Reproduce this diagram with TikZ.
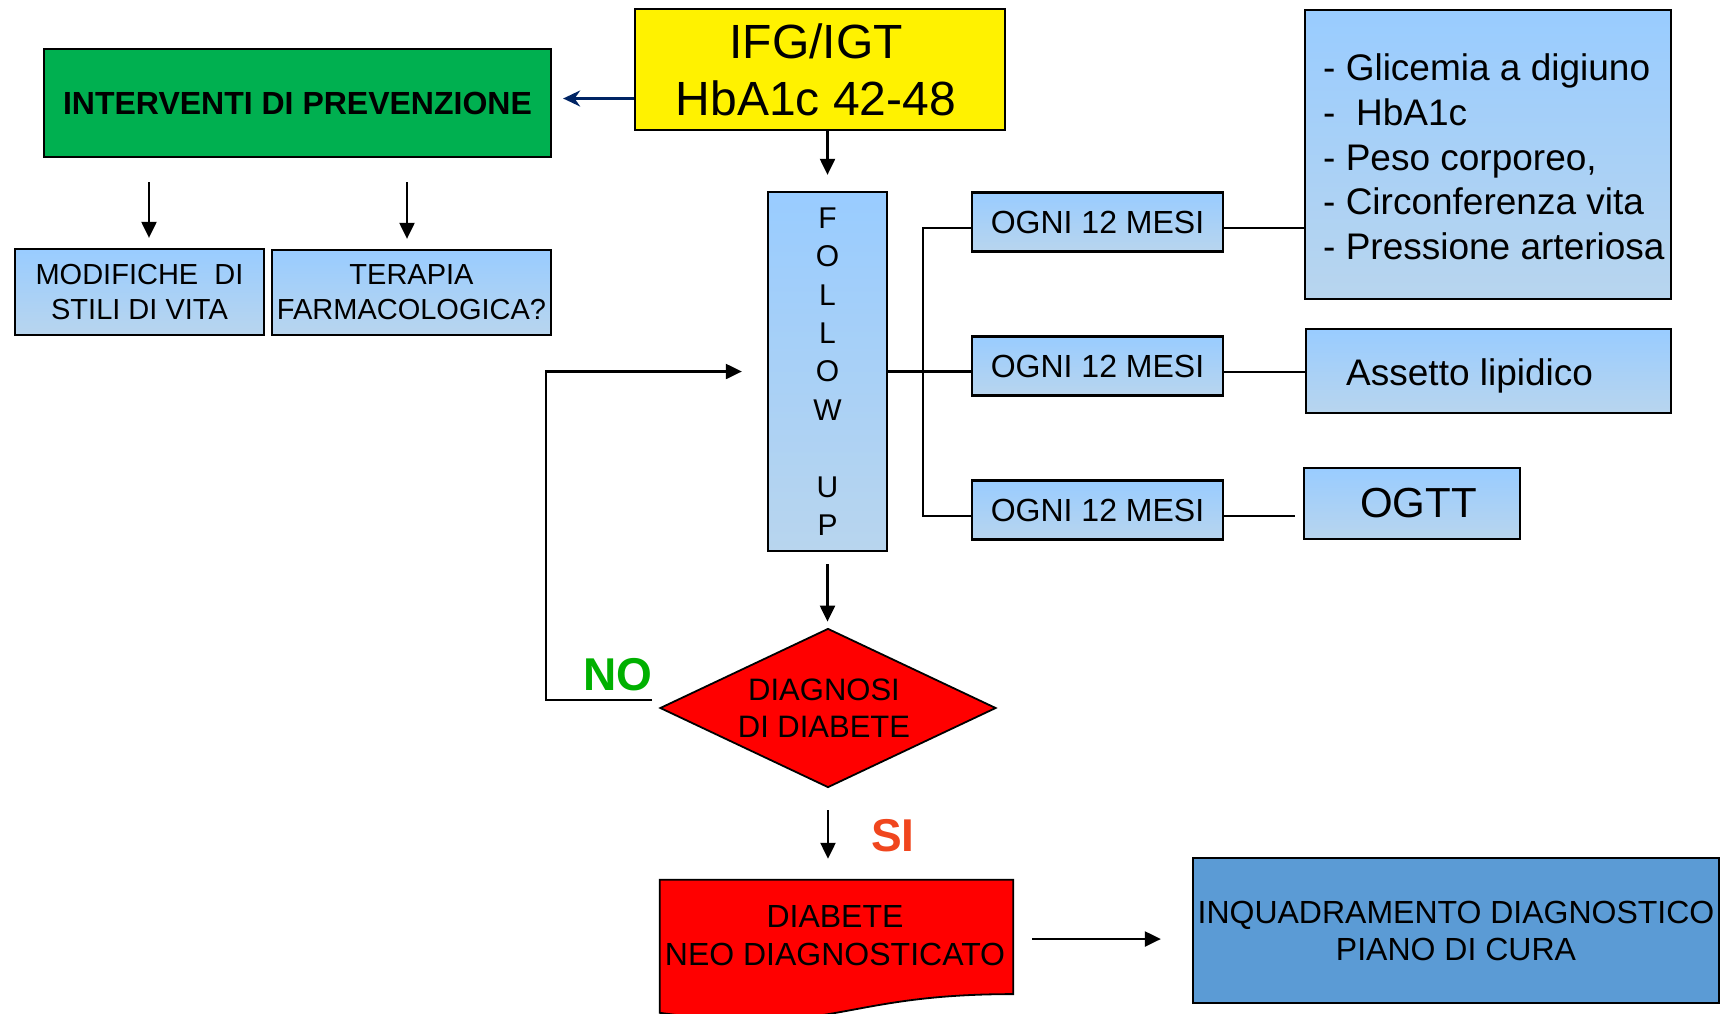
\documentclass[tikz,border=0pt]{standalone}
\usepackage{fontspec}
\setmainfont{Liberation Sans}
\usetikzlibrary{shapes.geometric,arrows.meta}

\definecolor{prevgreen}{RGB}{0,176,80}
\definecolor{lbtop}{RGB}{153,204,255}
\definecolor{lbbot}{RGB}{184,213,238}
\definecolor{steel}{RGB}{91,155,213}
\definecolor{navyarrow}{RGB}{0,36,100}
\definecolor{nogreen}{RGB}{0,176,0}
\definecolor{siorange}{RGB}{240,70,30}

\newcommand\fsz[2]{\fontsize{#1}{#2}\selectfont}

\begin{document}
\begin{tikzpicture}[x=1pt,y=-1pt,
  box/.style={draw, line width=2.3pt, inner sep=0pt, align=center},
  lbox/.style={box, top color=lbtop, bottom color=lbbot},
  conn/.style={line width=2.2pt},
  arr/.style={conn, -{Triangle[length=16pt,width=15pt]}},
]
\useasboundingbox (0,0) rectangle (1722,1013);

% --- top row ---
\node[box, fill=yellow, minimum width=370pt, minimum height=121pt,
      font=\fsz{48}{57}] (ifg) at (820,69.5) {};
\node[align=center, inner sep=0pt, font=\fsz{48}{57}] (ifgtxt) at (816,69.5) {IFG/IGT\\HbA1c 42-48};
\node[box, fill=prevgreen, minimum width=507pt, minimum height=108pt,
      font=\bfseries\fsz{32}{38}] (prev) at (297.5,103) {INTERVENTI DI PREVENZIONE};

% --- prevention branches ---
\node[lbox, minimum width=249pt, minimum height=86pt, font=\fsz{29}{35}]
  (mod) at (139.5,292) {MODIFICHE~~DI\\STILI DI VITA};
\node[lbox, minimum width=279pt, minimum height=85pt, font=\fsz{29}{35}]
  (ter) at (411.5,292.5) {TERAPIA\\FARMACOLOGICA?};

% --- follow up column ---
\node[lbox, minimum width=119pt, minimum height=359pt, font=\fsz{30}{38.4}]
  (fu) at (827.5,371.5) {F\\O\\L\\L\\O\\W\\\mbox{}\\U\\P};

% --- periodic checks ---
\node[lbox, minimum width=251pt, minimum height=59pt, font=\fsz{32}{37}] (o1) at (1097.5,222) {OGNI 12 MESI};
\node[lbox, minimum width=251pt, minimum height=59pt, font=\fsz{32}{37}] (o2) at (1097.5,366) {OGNI 12 MESI};
\node[lbox, minimum width=251pt, minimum height=59pt, font=\fsz{32}{37}] (o3) at (1097.5,510) {OGNI 12 MESI};

\node[lbox, minimum width=366pt, minimum height=289pt] (esami) at (1488,154.5) {};
\node[anchor=west, align=left, inner sep=0pt, font=\fsz{37}{44.7}] (esamitxt) at (1323,157)
  {- Glicemia a digiuno\\-~~HbA1c\\- Peso corporeo,\\- Circonferenza vita\\- Pressione arteriosa};

\node[lbox, minimum width=365pt, minimum height=84pt] (lip) at (1488.5,371) {};
\node[anchor=base west, inner sep=0pt, font=\fsz{37}{44}] (liptxt) at (1346,385) {Assetto lipidico};

\node[lbox, minimum width=216pt, minimum height=71pt] (ogtt) at (1412,503.5) {};
\node[inner sep=0pt, font=\fsz{42}{50}] (ogtttxt) at (1418.5,503.5) {OGTT};

% --- decision ---
\node[diamond, draw, fill=red, line width=1.8pt, minimum width=336pt, minimum height=159pt, inner sep=0pt]
  (dx) at (828,708) {};
\node[align=center, inner sep=0pt, font=\fsz{31}{37}] (dxtxt) at (824,708.5) {DIAGNOSI\\DI DIABETE};

\node[font=\bfseries\fsz{46}{50}, text=nogreen, inner sep=0pt] (no) at (618,675) {NO};
\node[font=\bfseries\fsz{46}{50}, text=siorange, inner sep=0pt] (si) at (893,836) {SI};

% --- new diagnosis (document shape) ---
\node[minimum width=353pt, minimum height=142pt, inner sep=0pt] (doc) at (836.5,951) {};
\filldraw[fill=red, line width=1.8pt]
  (doc.north west) -- (doc.north east) -- ([yshift=28.1pt]doc.south east)
  .. controls ([yshift=28.1pt]doc.south) and ([yshift=-15.3pt]doc.south) ..
  ([yshift=9.4pt]doc.south west) -- cycle;
\node[align=center, inner sep=0pt, font=\fsz{32}{38}] (doctxt) at (835,936) {DIABETE\\NEO DIAGNOSTICATO};

\node[box, fill=steel, minimum width=526pt, minimum height=145pt, font=\fsz{32}{37}]
  (inq) at (1456,930.5) {INQUADRAMENTO DIAGNOSTICO\\PIANO DI CURA};

% --- connectors ---
\coordinate (y1) at ([yshift=-29pt]ifg.west);
\draw[conn, line width=2.6pt, navyarrow, -{Stealth[length=17pt,width=16pt]}, shorten >=11pt] (y1) -- (y1 -| prev.east);
\draw[arr, shorten >=16pt] (ifg.south -| fu.north) -- (fu.north);

\coordinate (a1) at ([xshift=9.5pt]mod.north);
\coordinate (a2) at ([xshift=-4.5pt]ter.north);
\draw[arr, shorten <=24pt, shorten >=10pt] (a1 |- prev.south) -- (a1);
\draw[arr, shorten <=24pt, shorten >=10pt] (a2 |- prev.south) -- (a2);

\draw[conn] (fu.east) -- (fu.east -| o2.west);
\coordinate (b1) at ([yshift=-6pt]o1.west);
\coordinate (b3) at ([yshift=-6pt]o3.west);
\draw[conn] (b1) -- ++(-48,0) |- (b3);

\coordinate (c1) at ([yshift=-6pt]o1.east);
\coordinate (c2) at ([yshift=-6pt]o2.east);
\coordinate (c3) at ([yshift=-6pt]o3.east);
\draw[conn] (c1) -- (c1 -| esami.west);
\draw[conn] (c2) -- (c2 -| lip.west);
\draw[conn, shorten >=8pt] (c3) -- (c3 -| ogtt.west);

\draw[arr, shorten <=12pt, shorten >=6pt] (fu.south) -- (fu.south |- dx.north);
\draw[arr, shorten <=22pt, shorten >=21pt] (dx.south) -- (dx.south |- doc.north);

\coordinate (n1) at ([xshift=-7pt,yshift=8pt]dx.west);
\draw[arr, shorten >=25pt] (n1) -- ++(-106,0) |- (fu.west);

\coordinate (d1) at ([yshift=12pt]doc.east);
\draw[arr, shorten <=19pt, shorten >=31pt] (d1) -- (d1 -| inq.west);
\end{tikzpicture}
\end{document}
